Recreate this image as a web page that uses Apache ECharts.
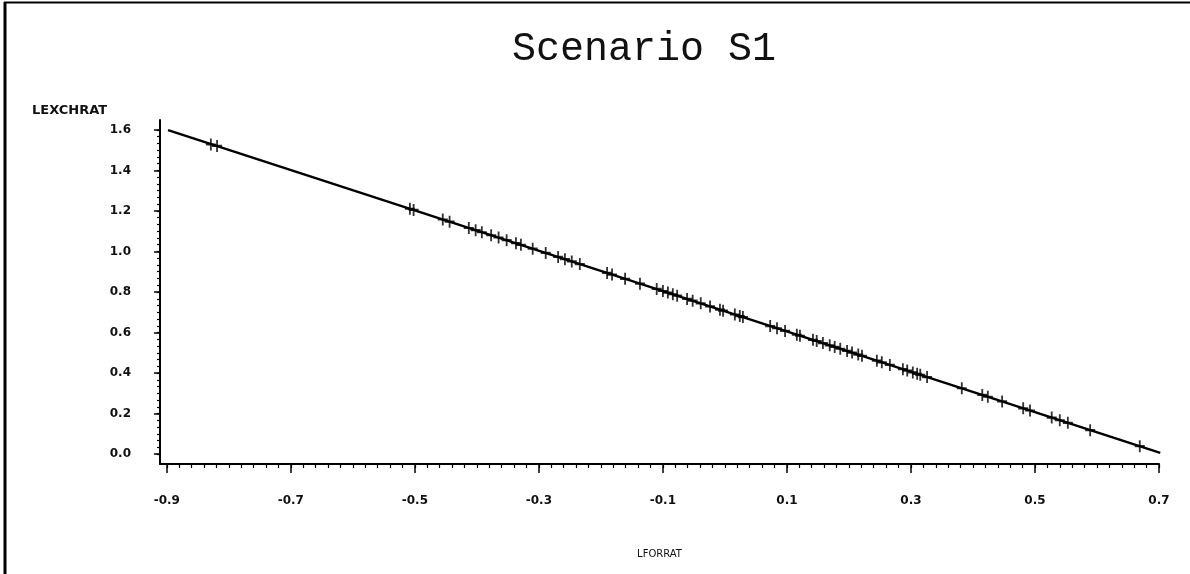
<!DOCTYPE html>
<html>
<head>
<meta charset="utf-8">
<script src="https://cdn.jsdelivr.net/npm/echarts@6/dist/echarts.min.js"></script>
<style>
html,body{margin:0;padding:0;background:#fff;}
#chart{width:1190px;height:574px;}
</style>
</head>
<body>
<div id="chart"></div>
<script>
// ---- data ----
const titleText = 'Scenario S1';
const xName = 'LFORRAT';
const yName = 'LEXCHRAT';
const xTickLabels = [-0.9, -0.7, -0.5, -0.3, -0.1, 0.1, 0.3, 0.5, 0.7];
const yTickLabels = [0.0, 0.2, 0.4, 0.6, 0.8, 1.0, 1.2, 1.4, 1.6];
// observed points (LFORRAT)
const obsX = [-0.829, -0.819, -0.508, -0.502, -0.455, -0.444, -0.413, -0.402, -0.392, -0.377,
  -0.365, -0.352, -0.337, -0.329, -0.310, -0.289, -0.269, -0.258, -0.247, -0.234,
  -0.190, -0.182, -0.161, -0.137, -0.110, -0.100, -0.092, -0.084, -0.077, -0.061,
  -0.052, -0.039, -0.024, -0.008, -0.003, 0.016, 0.024, 0.029, 0.073, 0.084,
  0.097, 0.116, 0.121, 0.142, 0.148, 0.158, 0.169, 0.177, 0.186, 0.197,
  0.205, 0.215, 0.221, 0.245, 0.253, 0.266, 0.287, 0.294, 0.303, 0.310,
  0.315, 0.326, 0.382, 0.415, 0.424, 0.447, 0.481, 0.492, 0.527, 0.540,
  0.553, 0.589, 0.669];
// observed points (LEXCHRAT)
const obsY = [1.528, 1.521, 1.211, 1.205, 1.158, 1.147, 1.116, 1.105, 1.095, 1.080,
  1.069, 1.056, 1.041, 1.033, 1.014, 0.993, 0.973, 0.962, 0.951, 0.938,
  0.894, 0.886, 0.865, 0.841, 0.815, 0.805, 0.797, 0.789, 0.782, 0.766,
  0.757, 0.744, 0.729, 0.713, 0.708, 0.689, 0.681, 0.676, 0.632, 0.621,
  0.608, 0.589, 0.584, 0.564, 0.558, 0.548, 0.537, 0.529, 0.520, 0.509,
  0.501, 0.491, 0.485, 0.461, 0.453, 0.440, 0.419, 0.412, 0.403, 0.396,
  0.391, 0.380, 0.325, 0.292, 0.283, 0.260, 0.226, 0.215, 0.180, 0.167,
  0.154, 0.118, 0.039];
// fitted line end points
const fitX = [-0.898, 0.702];
const fitY = [1.599, 0.006];

// ---- minor tick positions ----
const xMinor = [];
for (let i = 0; i <= 80; i++) xMinor.push(+(-0.9 + i * 0.02).toFixed(4));
const yMinor = [];
for (let i = 0; i <= 48; i++) yMinor.push(+(i * 0.2 / 6).toFixed(5));

const pts = obsX.map((x, i) => [x, obsY[i]]);
const fit = fitX.map((x, i) => [x, fitY[i]]);

const labelFont = {color: '#111', fontFamily: 'DejaVu Sans', fontWeight: 'bold', fontSize: 12};
const X_MIN = -0.911, X_MAX = 0.7, Y_MIN = -0.049, Y_MAX = 1.649;

const chart = echarts.init(document.getElementById('chart'), null, {renderer: 'canvas'});
chart.setOption({
  backgroundColor: '#fff',
  animation: false,
  title: [
    {text: titleText, left: 507, top: 24,
     textStyle: {fontFamily: 'Liberation Mono', fontWeight: 'normal', fontSize: 40, color: '#111'}},
    {text: yName, left: 27, top: 99,
     textStyle: {fontFamily: 'DejaVu Sans', fontWeight: 'bold', fontSize: 13, color: '#111'}}
  ],
  graphic: [
    {type: 'line', shape: {x1: 5, y1: 2, x2: 5, y2: 574}, style: {stroke: '#000', lineWidth: 3}},
    {type: 'line', shape: {x1: 4, y1: 2.5, x2: 1190, y2: 2.5}, style: {stroke: '#000', lineWidth: 2}}
  ],
  grid: {left: 160, right: 31, top: 120, bottom: 110, containLabel: false},
  xAxis: [
    {type: 'value', min: X_MIN, max: X_MAX, position: 'bottom',
     name: xName, nameLocation: 'middle', nameGap: 85,
     nameTextStyle: {fontFamily: 'DejaVu Sans', fontSize: 10, color: '#111'},
     axisLine: {onZero: false, lineStyle: {color: '#000', width: 2}},
     axisTick: {customValues: xTickLabels, length: 9, lineStyle: {color: '#000', width: 1.5}},
     axisLabel: {customValues: xTickLabels, margin: 31, formatter: v => v.toFixed(1), ...labelFont},
     splitLine: {show: false}},
    {type: 'value', min: X_MIN, max: X_MAX, position: 'bottom',
     axisLine: {show: false, onZero: false},
     axisTick: {customValues: xMinor, length: 4, lineStyle: {color: '#000', width: 1.2}},
     axisLabel: {show: false},
     splitLine: {show: false}}
  ],
  yAxis: [
    {type: 'value', min: Y_MIN, max: Y_MAX, position: 'left',
     axisLine: {onZero: false, lineStyle: {color: '#000', width: 2}},
     axisTick: {customValues: yTickLabels, length: 6, lineStyle: {color: '#000', width: 1.5}},
     axisLabel: {customValues: yTickLabels, margin: 29, formatter: v => v.toFixed(1), ...labelFont},
     splitLine: {show: false}},
    {type: 'value', min: Y_MIN, max: Y_MAX, position: 'left',
     axisLine: {show: false, onZero: false},
     axisTick: {customValues: yMinor, length: 3, lineStyle: {color: '#000', width: 1.2}},
     axisLabel: {show: false},
     splitLine: {show: false}}
  ],
  series: [
    {type: 'line', data: fit, xAxisIndex: 0, yAxisIndex: 0, symbol: 'none',
     lineStyle: {color: '#000', width: 2.5}, z: 2},
    {type: 'scatter', data: pts, xAxisIndex: 0, yAxisIndex: 0,
     symbol: 'path://M5 0 L5 12 M0 6 L10 6', symbolSize: [10, 12],
     itemStyle: {color: 'rgba(0,0,0,0)', borderColor: '#000', borderWidth: 2}, z: 3}
  ]
});
</script>
</body>
</html>
